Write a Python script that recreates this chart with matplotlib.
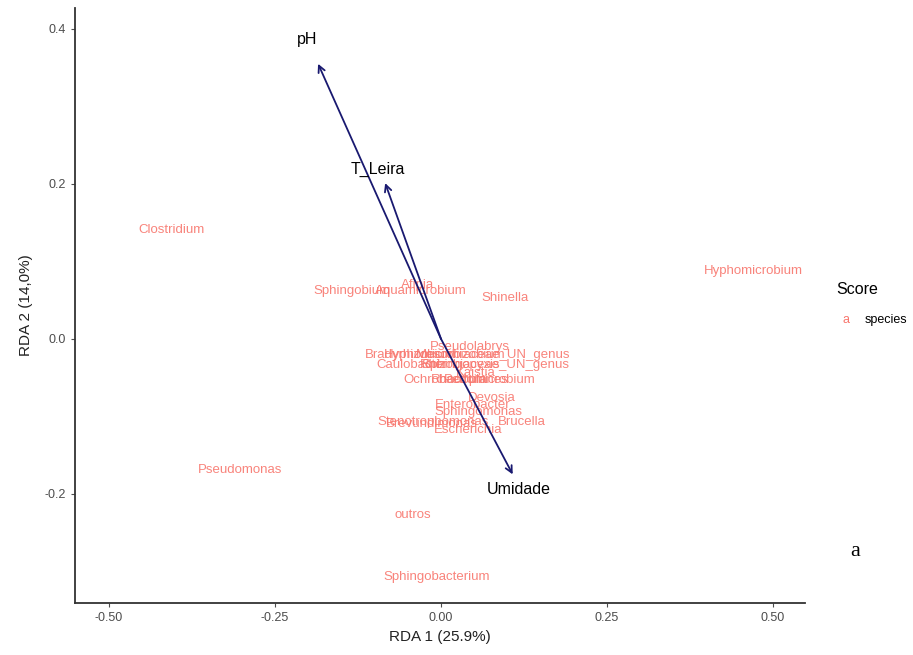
import matplotlib.pyplot as plt

# species scores (RDA 1, RDA 2)
species = ['Clostridium', 'Hyphomicrobium', 'Sphingobium', 'Aquamicrobium', 'Afipia',
           'Shinella', 'Pseudolabrys', 'Bradyrhizobium', 'Mesorhizobium',
           'Hyphomicrobiaceae_UN_genus', 'Caulobacter', 'Sphingopyxis',
           'Rhizobiaceae_UN_genus', 'Kaistia', 'Ochrobactrum', 'Rhodoplanes',
           'Pedomicrobium', 'Devosia', 'Enterobacter', 'Sphingomonas',
           'Stenotrophomonas', 'Brevundimonas', 'Brucella', 'Escherichia',
           'Pseudomonas', 'outros', 'Sphingobacterium']
sp_x = [-0.405, 0.471, -0.134, -0.030, -0.036,
        0.096, 0.044, -0.045, 0.030,
        0.054, -0.044, 0.030,
        0.081, 0.052, 0.006, 0.044,
        0.074, 0.077, 0.048, 0.056,
        -0.012, -0.014, 0.122, 0.041,
        -0.303, -0.042, -0.006]
sp_y = [0.141, 0.088, 0.062, 0.062, 0.070,
        0.053, -0.010, -0.021, -0.021,
        -0.021, -0.034, -0.034,
        -0.034, -0.044, -0.053, -0.053,
        -0.053, -0.076, -0.085, -0.094,
        -0.107, -0.110, -0.107, -0.118,
        -0.169, -0.228, -0.307]

# environmental vectors
env = ['pH', 'T_Leira', 'Umidade']
env_x = [-0.185, -0.084, 0.108]
env_y = [0.355, 0.201, -0.175]
env_lab_x = [-0.202, -0.095, 0.117]
env_lab_y = [0.386, 0.218, -0.194]

plt.rcParams['font.family'] = ['Liberation Sans', 'DejaVu Sans']

fig = plt.figure(figsize=(9.13, 6.55), dpi=100)
ax = fig.add_axes([0.0821, 0.0794, 0.7996, 0.9084])

sp_col = '#F8766D'
for name, x, y in zip(species, sp_x, sp_y):
    ax.text(x, y, name, color=sp_col, fontsize=9.5, ha='center', va='center', alpha=0.9)

arrow_col = '#191970'
for x, y in zip(env_x, env_y):
    ax.annotate('', xy=(x, y), xytext=(0, 0),
                arrowprops=dict(arrowstyle='->', color=arrow_col, lw=1.3,
                                mutation_scale=12, shrinkA=0, shrinkB=0))
for name, x, y in zip(env, env_lab_x, env_lab_y):
    ax.text(x, y, name, color='black', fontsize=11.5, ha='center', va='center')

ax.set_xlim(-0.551, 0.548)
ax.set_ylim(-0.341, 0.427)
ax.set_xticks([-0.50, -0.25, 0.00, 0.25, 0.50])
ax.set_xticklabels(['-0.50', '-0.25', '0.00', '0.25', '0.50'])
ax.set_yticks([-0.2, 0.0, 0.2, 0.4])
ax.set_yticklabels(['-0.2', '0.0', '0.2', '0.4'])
ax.tick_params(colors='#4d4d4d', labelsize=9, length=3, width=0.8)
ax.set_xlabel('RDA 1 (25.9%)', fontsize=11, color='#222222', labelpad=4)
ax.set_ylabel('RDA 2 (14,0%)', fontsize=11, color='#222222', labelpad=8)

for s in ['top', 'right']:
    ax.spines[s].set_visible(False)
for s in ['left', 'bottom']:
    ax.spines[s].set_color('#333333')
    ax.spines[s].set_linewidth(1.3)

# legend drawn as figure text
fig.text(857 / 913, 1 - 289 / 655, 'Score', fontsize=11.5, ha='center', va='center')
fig.text(846 / 913, 1 - 320 / 655, 'a', fontsize=9, color=sp_col, ha='center', va='center')
fig.text(886 / 913, 1 - 320 / 655, 'species', fontsize=9, ha='center', va='center')

fig.text(855 / 913, 1 - 552 / 655, 'a', fontsize=16, family='Liberation Serif',
         ha='center', va='center')

fig.savefig('out.png', dpi=100)
